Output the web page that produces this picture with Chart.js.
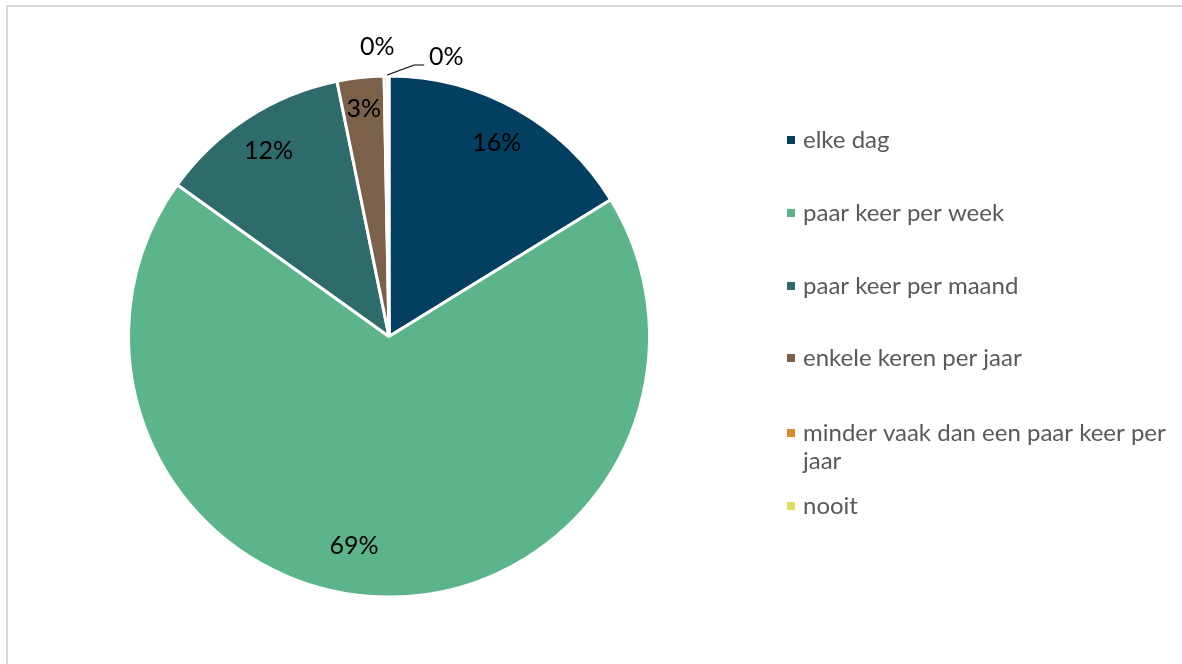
<!DOCTYPE html>
<html>
<head>
<meta charset="utf-8">
<script src="https://cdn.jsdelivr.net/npm/chart.js@4.4.0/dist/chart.umd.min.js"></script>
<style>
  html, body { margin: 0; padding: 0; background: #fff; }
  #wrap { position: relative; width: 1182px; height: 664px; }
  #frame { position: absolute; left: 6px; top: 5px; right: -10px; bottom: -10px;
           border-left: 2px solid #d9d9d9; border-top: 2px solid #d9d9d9; pointer-events: none; }
  canvas { position: absolute; left: 0; top: 0; }
</style>
</head>
<body>
<div id="wrap">
  <canvas id="pie" width="1182" height="664"></canvas>
  <div id="frame"></div>
</div>
<script>
const categories = ['elke dag', 'paar keer per week', 'paar keer per maand', 'enkele keren per jaar',
  'minder vaak dan een paar keer per jaar', 'nooit'];
const legendLines = [['elke dag'], ['paar keer per week'], ['paar keer per maand'], ['enkele keren per jaar'],
  ['minder vaak dan een paar keer per', 'jaar'], ['nooit']];
const shares = [16.2, 68.7, 11.9, 2.9, 0.2, 0.1];
const shareLabels = ['16%', '69%', '12%', '3%', '0%', '0%'];
const colors = ['#023f60', '#5bb48a', '#2e6b6b', '#7b6149', '#d98a2b', '#dcdc5c'];

const FONT = 'Lato, "Open Sans", sans-serif';

// percentage labels, Excel "best fit" style
const pieLabels = {
  id: 'pieLabels',
  afterDatasetsDraw(chart) {
    const ctx = chart.ctx;
    const arcs = chart.getDatasetMeta(0).data;
    ctx.save();
    ctx.font = '25px ' + FONT;
    ctx.fillStyle = '#000';
    ctx.textAlign = 'center';
    ctx.textBaseline = 'middle';
    arcs.forEach((arc, i) => {
      const { x, y, startAngle, endAngle, outerRadius } = arc.getProps(['x', 'y', 'startAngle', 'endAngle', 'outerRadius'], true);
      let mid = (startAngle + endAngle) / 2;
      let f = 0.85;
      if (i === 1) { mid += 7.5 * Math.PI / 180; f = 0.815; }
      if (i === 3) f = 0.88;
      if (shares[i] >= 1) {
        ctx.fillText(shareLabels[i], x + Math.cos(mid) * outerRadius * f, y + Math.sin(mid) * outerRadius * f);
      } else if (i === 4) {
        ctx.fillText(shareLabels[i], x + Math.cos(mid) * (outerRadius + 30) - 8, y + Math.sin(mid) * (outerRadius + 30) + 1);
      } else {
        const ex = x + Math.cos(mid) * (outerRadius + 1), ey = y + Math.sin(mid) * (outerRadius + 1);
        ctx.strokeStyle = '#000';
        ctx.lineWidth = 1.2;
        ctx.beginPath();
        ctx.moveTo(ex - 1, ey);
        ctx.lineTo(ex + 26, ey - 10);
        ctx.lineTo(ex + 36, ey - 10);
        ctx.stroke();
        ctx.fillText(shareLabels[i], ex + 58, ey - 18);
      }
    });
    ctx.restore();
  }
};

// legend at the right, with wrapped entry
const sideLegend = {
  id: 'sideLegend',
  afterDraw(chart) {
    const ctx = chart.ctx;
    ctx.save();
    ctx.font = '24px ' + FONT;
    ctx.textBaseline = 'middle';
    ctx.textAlign = 'left';
    const rows = [140, 213, 286, 358, 433, 506];
    legendLines.forEach((lines, i) => {
      ctx.fillStyle = colors[i];
      ctx.fillRect(787, rows[i] - 4, 8, 8);
      ctx.fillStyle = '#595959';
      lines.forEach((t, k) => ctx.fillText(t, 803, rows[i] + k * 28));
    });
    ctx.restore();
  }
};

new Chart(document.getElementById('pie'), {
  type: 'pie',
  data: {
    labels: categories,
    datasets: [{
      data: shares,
      backgroundColor: colors,
      borderColor: '#ffffff',
      borderWidth: 3
    }]
  },
  options: {
    responsive: false,
    animation: false,
    layout: { padding: { left: 127, right: 531, top: 74, bottom: 65 } },
    plugins: { legend: { display: false }, tooltip: { enabled: false } }
  },
  plugins: [pieLabels, sideLegend]
});
</script>
</body>
</html>
